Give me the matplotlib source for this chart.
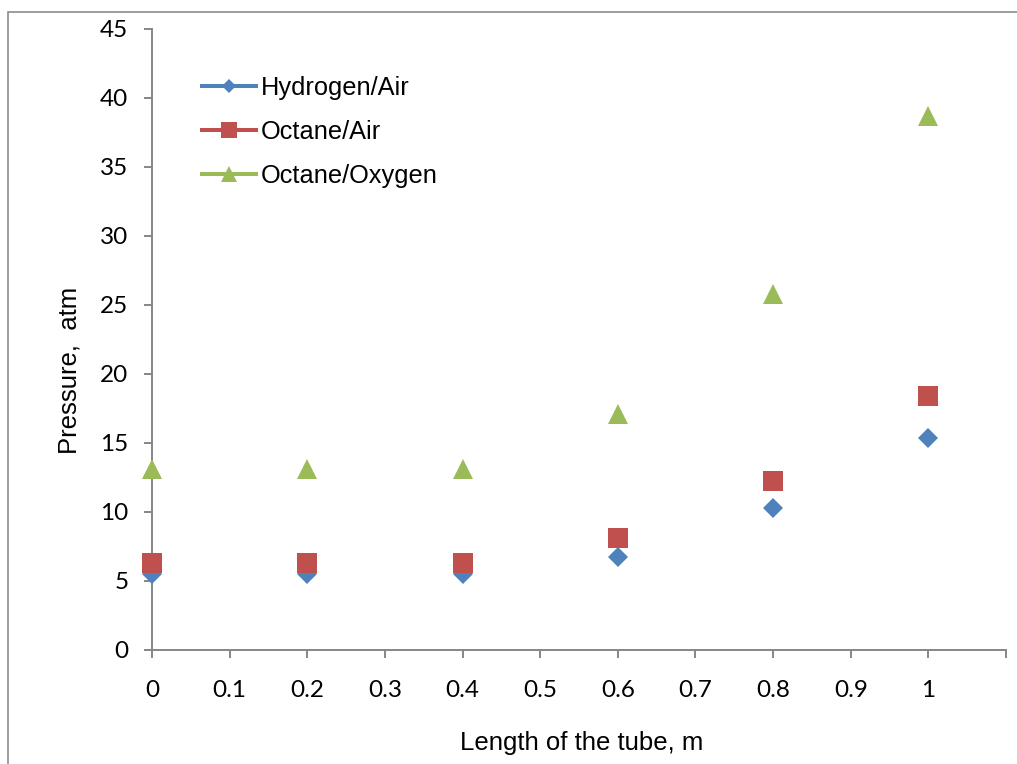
import matplotlib.pyplot as plt
from matplotlib.lines import Line2D
from matplotlib.patches import Rectangle
import numpy as np

# tube length positions, m
length = [0, 0.2, 0.4, 0.6, 0.8, 1.0]

# peak pressure, atm
hydrogen_air = [5.5, 5.5, 5.5, 6.75, 10.25, 15.35]
octane_air = [6.25, 6.25, 6.25, 8.1, 12.25, 18.35]
octane_oxygen = [13.1, 13.1, 13.1, 17.05, 25.8, 38.7]

series_names = ["Hydrogen/Air", "Octane/Air", "Octane/Oxygen"]
x_ticks = [0, 0.1, 0.2, 0.3, 0.4, 0.5, 0.6, 0.7, 0.8, 0.9, 1.0, 1.1]
x_tick_labels = ["0", "0.1", "0.2", "0.3", "0.4", "0.5", "0.6", "0.7", "0.8", "0.9", "1", ""]
y_ticks = [0, 5, 10, 15, 20, 25, 30, 35, 40, 45]

W, H = 1017, 764
AXIS_GREY = "#868686"
colors = ["#4F81BD", "#C0504D", "#9BBB59"]
markers = ["D", "s", "^"]
sizes = [9.8, 14, 14.4]
legend_sizes = [7.5, 11.5, 11.5]


def px(x, y):
    """pixel position -> figure fraction"""
    return x / W, 1 - y / H


fig = plt.figure(figsize=(W / 100, H / 100), dpi=100)
fig.patch.set_facecolor("white")

left, bottom = px(152, 649.7)
right, top = px(1006, 28.7)
ax = fig.add_axes([left, bottom, right - left, top - bottom])

for ys, c, m, s in zip([hydrogen_air, octane_air, octane_oxygen], colors, markers, sizes):
    ax.plot(length, ys, linestyle="none", marker=m, markersize=s,
            color=c, markeredgewidth=0, clip_on=False, zorder=3)

ax.set_xlim(0, 1.1)
ax.set_ylim(0, 45)
ax.set_xticks(x_ticks)
ax.set_xticklabels(x_tick_labels)
ax.set_yticks(y_ticks)

for side in ["top", "right"]:
    ax.spines[side].set_visible(False)
for side in ["left", "bottom"]:
    ax.spines[side].set_color(AXIS_GREY)
    ax.spines[side].set_linewidth(1.4)

ax.tick_params(axis="both", direction="out", length=6, width=1.4,
               color=AXIS_GREY, labelsize=17.5, labelcolor="black")
ax.tick_params(axis="x", pad=16)
ax.tick_params(axis="y", pad=11)
for lbl in ax.get_xticklabels() + ax.get_yticklabels():
    lbl.set_fontfamily("Lato")

fig.text(*px(582, 743), "Length of the tube, m", ha="center", va="center",
         fontsize=18.5, family="Liberation Sans")
fig.text(*px(70, 370), "Pressure,  atm", ha="center", va="center",
         rotation=90, fontsize=18.5, family="Liberation Sans")

handles = [Line2D([], [], color=c, lw=2.9, marker=m, markersize=s, markeredgewidth=0)
           for c, m, s in zip(colors, markers, legend_sizes)]
ax.legend(handles, series_names, loc="upper left",
          bbox_to_anchor=px(202, 76), bbox_transform=fig.transFigure,
          frameon=False, borderpad=0, borderaxespad=0,
          handlelength=2.12, handletextpad=0.2, labelspacing=0.78,
          prop={"family": "Liberation Sans", "size": 18.3})

# chart area outline, runs off the right and bottom edges
x0, y0 = px(8, 12)
fig.add_artist(Rectangle((x0, -0.05), 1.1, y0 + 0.05, transform=fig.transFigure,
                         fill=False, edgecolor="#8C8C8C", linewidth=1.2, clip_on=False))

fig.savefig("out.png", dpi=100)
